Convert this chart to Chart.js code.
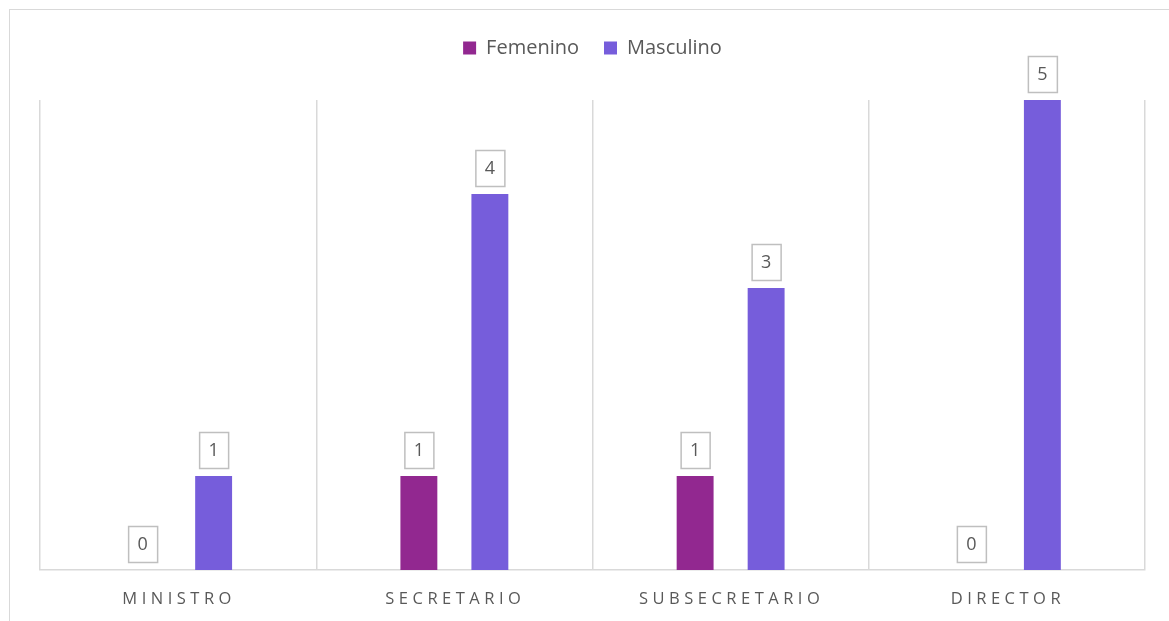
<!DOCTYPE html>
<html>
<head>
<meta charset="utf-8">
<script src="https://cdn.jsdelivr.net/npm/chart.js@4/dist/chart.umd.min.js"></script>
<style>
    html, body { margin: 0; padding: 0; background: #fff; overflow: hidden; }
    #frame {
        position: absolute; left: 9px; top: 9px; width: 1180px; height: 640px;
        border: 1px solid #d9d9d9; box-sizing: border-box;
    }
    #wrap { position: absolute; left: 0; top: 0; width: 1169px; height: 621px; }
</style>
</head>
<body>
<div id="frame"></div>
<div id="wrap"><canvas id="chart"></canvas></div>
<script>
const categories = ['MINISTRO', 'SECRETARIO', 'SUBSECRETARIO', 'DIRECTOR'];
const femenino = [0, 1, 1, 0];
const masculino = [1, 4, 3, 5];

const textColor = '#595959';
const gridColor = '#d9d9d9';

// Extra room under the legend
const legendGap = {
    id: 'legendGap',
    beforeInit(chart) {
        const fit = chart.legend.fit;
        chart.legend.fit = function () {
            fit.bind(chart.legend)();
            this.height += 32;
        };
    }
};

// Boxed value labels above each bar
const valueBoxes = {
    id: 'valueBoxes',
    afterDatasetsDraw(chart) {
        const ctx = chart.ctx;
        ctx.save();
        ctx.font = '18px "Open Sans"';
        ctx.textAlign = 'center';
        ctx.textBaseline = 'middle';
        chart.data.datasets.forEach((ds, i) => {
            chart.getDatasetMeta(i).data.forEach((bar, j) => {
                const w = 29, h = 36;
                const x = bar.x - w / 2;
                const y = bar.y - 8 - h;
                ctx.fillStyle = '#fff';
                ctx.fillRect(x, y, w, h);
                ctx.strokeStyle = '#bfbfbf';
                ctx.lineWidth = 1.5;
                ctx.strokeRect(x + 0.5, y + 0.5, w, h);
                ctx.fillStyle = textColor;
                ctx.fillText(String(ds.data[j]), bar.x, y + h / 2 + 1);
            });
        });
        ctx.restore();
    }
};

// Spaced category labels under the axis
const spacedTicks = {
    id: 'spacedTicks',
    afterDraw(chart) {
        const ctx = chart.ctx;
        const xScale = chart.scales.x;
        ctx.save();
        ctx.font = '16.5px "Open Sans"';
        ctx.letterSpacing = '4.5px';
        ctx.fillStyle = textColor;
        ctx.textAlign = 'center';
        ctx.textBaseline = 'middle';
        categories.forEach((c, i) => {
            ctx.fillText(c, xScale.getPixelForTick(i) + 1, 599);
        });
        ctx.restore();
    }
};

new Chart(document.getElementById('chart').getContext('2d'), {
    type: 'bar',
    data: {
        labels: categories,
        datasets: [{
            label: 'Femenino',
            data: femenino,
            backgroundColor: '#922890'
        }, {
            label: 'Masculino',
            data: masculino,
            backgroundColor: '#765DDB'
        }]
    },
    options: {
        responsive: true,
        maintainAspectRatio: false,
        animation: false,
        categoryPercentage: 0.514,
        barPercentage: 0.52,
        layout: {
            padding: { left: 40, right: 24, top: 13, bottom: 51 }
        },
        scales: {
            x: {
                grid: { offset: true, color: gridColor, lineWidth: 1.5, drawTicks: false },
                border: { color: gridColor, width: 1.5 },
                ticks: { display: false }
            },
            y: {
                display: false,
                min: 0,
                max: 5
            }
        },
        plugins: {
            legend: {
                position: 'top',
                labels: {
                    boxWidth: 13,
                    boxHeight: 13,
                    padding: 25,
                    color: textColor,
                    font: { family: '"Open Sans"', size: 20 }
                }
            },
            tooltip: { enabled: false }
        }
    },
    plugins: [legendGap, valueBoxes, spacedTicks]
});
</script>
</body>
</html>
